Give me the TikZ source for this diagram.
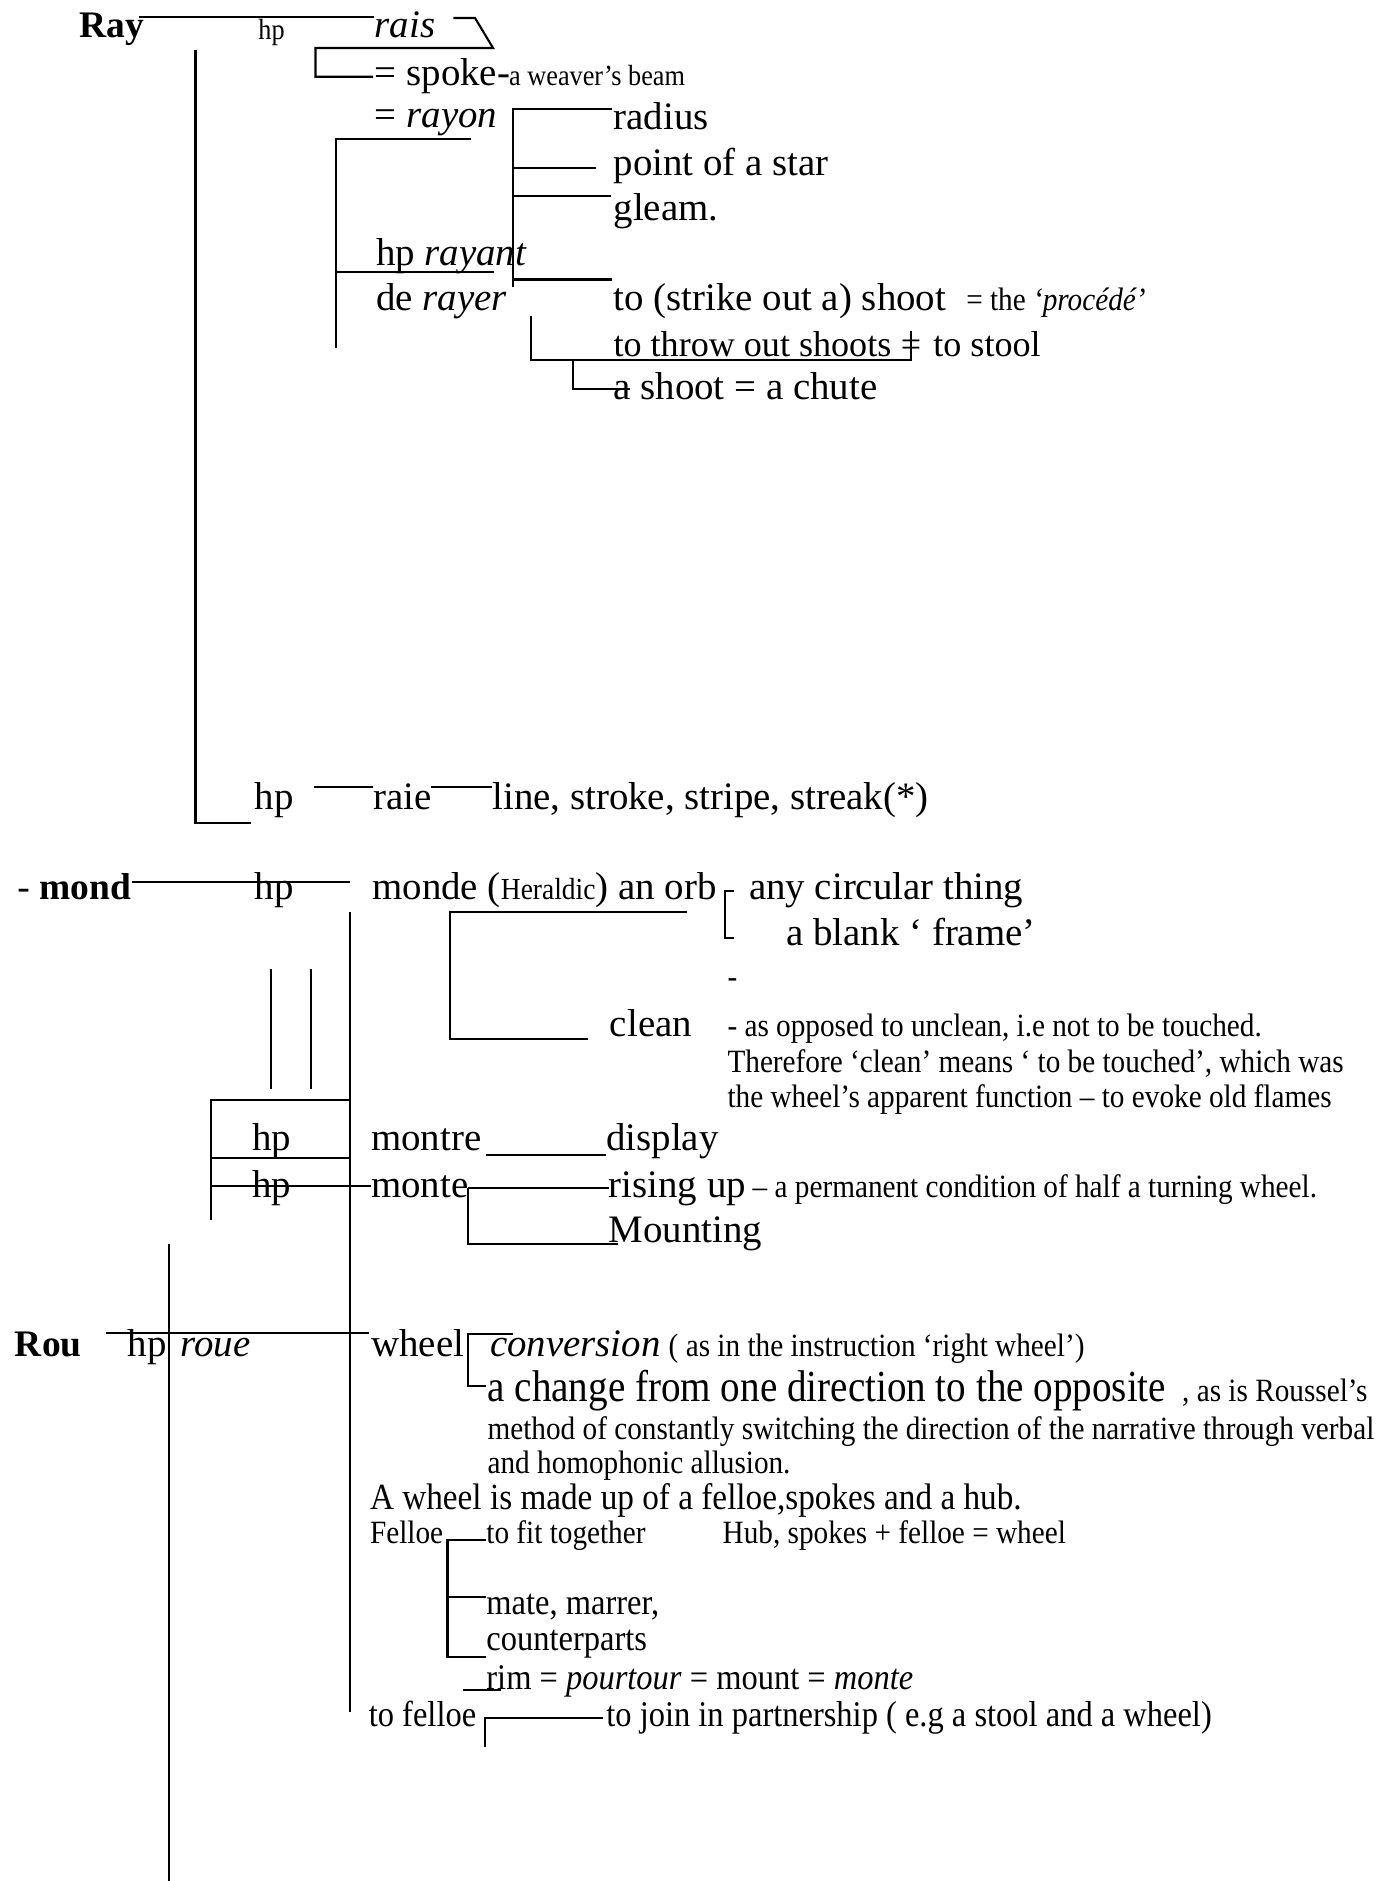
\documentclass[tikz,border=0pt]{standalone}
\usepackage{fontspec}
\setmainfont{Liberation Serif}
\newfontfamily\narrowfont[FakeStretch=0.9]{Liberation Serif}
\newfontfamily\changefont[FakeStretch=0.88]{Liberation Serif}

\tikzset{
  word/.style={inner sep=0pt, anchor=base west, font=\fontsize{14}{16}\selectfont},
  smallword/.style={word, font=\fontsize{13}{15}\selectfont},
  head/.style={word, font=\fontsize{13.5}{16}\selectfont\bfseries},
  note/.style={inner sep=0pt, anchor=base west, font=\narrowfont\fontsize{11.7}{14}\selectfont},
  bignote/.style={note, font=\narrowfont\fontsize{13}{15}\selectfont},
  tinyhp/.style={note, font=\narrowfont\fontsize{10.5}{12}\selectfont},
  rule/.style={line width=0.75pt}
}

\begin{document}
\begin{tikzpicture}[x=0.432pt, y=-0.432pt]
\useasboundingbox (0,0) rectangle (1157,1568);

% Ray
\node[head] (ray) at (66,31) {Ray};
\node[tinyhp] (hpray) at (215,33) {hp};
\node[word] (rais) at (312,31) {\textit{rais}};
\draw[rule] (116,14) -- (312,14);
\draw[rule] (378,15) -- (396,15) -- (411,40) -- (263,40) -- (263,64) -- (311,64);

% spoke, rayon
\node[word] (spoke) at (312,71) {= spoke-};
\node[tinyhp] (beam) at (424,71) {a weaver’s beam};
\node[word] (rayon) at (312,106) {= \textit{rayon}};
\draw[rule] (393,116) -- (280,116) -- (280,290);

% meanings of rayon
\node[word] (radius) at (511,108) {radius};
\node[word] (star) at (511,146) {point of a star};
\node[word] (gleam) at (511,184) {gleam.};
\draw[rule] (510,91) -- (428,91) -- (428,239);
\draw[rule] (428,140) -- (497,140);
\draw[rule] (428,163) -- (509,163);
\draw[rule] (428,233) -- (510,233);

% rayant, rayer
\node[word] (rayant) at (313,221) {hp \textit{rayant}};
\draw[rule] (280,227) -- (412,227);
\node[word] (rayer) at (313,259) {de \textit{rayer}};
\node[word] (strike) at (511,259) {to (strike out a) shoot};
\node[note] (procede) at (805,259) {= the \textit{‘procédé’}};
\node[smallword] (throw) at (511,297) {to throw out shoots};
\node[smallword] (neq) at ([xshift=3pt]throw.base east) {=};
\node[smallword] (stool) at ([xshift=4pt]neq.base east) {to stool};
\node[word] (chute) at (511,333) {a shoot = a chute};
\draw[rule] (443,263) -- (443,300) -- (neq.center |- 0,300) -- ([yshift=3pt]neq.north);
\draw[rule] (478,300) -- (478,324) -- (525,324);

% raie
\draw[rule] (163,42) -- (163,686) -- (209,686);
\node[word] (hpraie) at (212,675) {hp};
\node[word] (raie) at (311,675) {raie};
\node[word] (stroke) at (410,675) {line, stroke, stripe, streak(*)};
\draw[rule] (262,656) -- (311,656);
\draw[rule] (359,656) -- (410,656);

% mond
\node[head] (mond) at (14,750) {\mdseries - \bfseries mond};
\node[word] (hpmond) at (212,750) {hp};
\draw[rule] (110,735) -- (292,735);
\node[word] (monde) at (310,750) {monde ({\narrowfont\fontsize{11}{12}\selectfont Heraldic}) an orb};
\node[word] (circ) at (624,750) {any circular thing};
\node[word] (blank) at (655,788) {a blank ‘ frame’};
\draw[rule] (612,743) -- (604,743) -- (604,782) -- (612,782);
\node[note] (dash) at (606,823) {-};
\node[word] (clean) at (508,864) {clean};
\draw[rule] (573,760) -- (375,760) -- (375,866) -- (490,866);
\node[note] (opp) at (606,864) {- as opposed to unclean, i.e not to be touched.};
\node[note] (touch) at (606,894) {Therefore ‘clean’ means ‘ to be touched’, which was};
\node[note] (flames) at (606,923) {the wheel’s apparent function – to evoke old flames};
\draw[rule] (226,808) -- (226,908);
\draw[rule] (259,808) -- (259,908);
\draw[rule] (292,760) -- (292,1427);

% montre, monte
\node[word] (hpmontre) at (210,959) {hp};
\node[word] (hpmonte) at (210,998) {hp};
\draw[rule] (292,917) -- (176,917) -- (176,1017);
\draw[rule] (176,965) -- (292,965);
\draw[rule] (176,989) -- (309,989);
\node[word] (montre) at (309,959) {montre};
\node[word] (display) at (505,959) {display};
\draw[rule] (405,963) -- (505,963);
\node[word] (monte) at (309,998) {monte};
\node[word] (rising) at (507,998) {rising up};
\node[note] (half) at (627,998) {– a permanent condition of half a turning wheel.};
\node[word] (mounting) at (507,1036) {Mounting};
\draw[rule] (390,990) -- (508,990);
\draw[rule] (390,990) -- (390,1037) -- (515,1037);

% Rou
\node[head] (rou) at (12,1131) {Rou};
\node[word] (hprou) at (106,1131) {hp};
\node[word] (roue) at (150,1131) {\textit{roue}};
\draw[rule] (88,1111) -- (308,1111);
\draw[rule] (141,1037) -- (141,1568);
\node[word] (wheel) at (309,1131) {wheel};
\node[word] (conv) at (408,1131) {\textit{conversion}};
\node[note] (asin) at (557,1131) {( as in the instruction ‘right wheel’)};
\draw[rule] (428,1112) -- (390,1112) -- (390,1155) -- (405,1155);
\node[inner sep=0pt, anchor=base west, font=\changefont\fontsize{16}{18}\selectfont] (change) at (406,1168) {a change from one direction to the opposite};
\node[note] (roussel) at (985,1168) {, as is Roussel’s};
\node[note] (method) at (406,1200) {method of constantly switching the direction of the narrative through verbal};
\node[note] (allusion) at (406,1228) {and homophonic allusion.};

% felloe
\node[note, font=\narrowfont\fontsize{13.3}{15}\selectfont] (madeup) at (308,1258) {A wheel is made up of a felloe,spokes and a hub.};
\node[note] (felloe) at (308,1287) {Felloe};
\node[note] (fit) at (405,1287) {to fit together};
\node[note] (hub) at (602,1287) {Hub, spokes + felloe = wheel};
\node[bignote] (mate) at (405,1346) {mate, marrer,};
\node[bignote] (counter) at (405,1376) {counterparts};
\draw[rule] (372,1284) -- (405,1284);
\draw[rule] (373,1284) -- (373,1381) -- (405,1381);
\draw[rule] (373,1331) -- (405,1331);
\node[bignote] (rim) at (405,1408) {rim = \textit{pourtour} = mount = \textit{monte}};
\draw[rule] (386,1409) -- (418,1409);
\node[bignote] (tofelloe) at (307,1439) {to felloe};
\node[bignote] (join) at (505,1439) {to join in partnership ( e.g a stool and a wheel)};
\draw[rule] (404,1456) -- (404,1432) -- (503,1432);
\end{tikzpicture}
\end{document}
